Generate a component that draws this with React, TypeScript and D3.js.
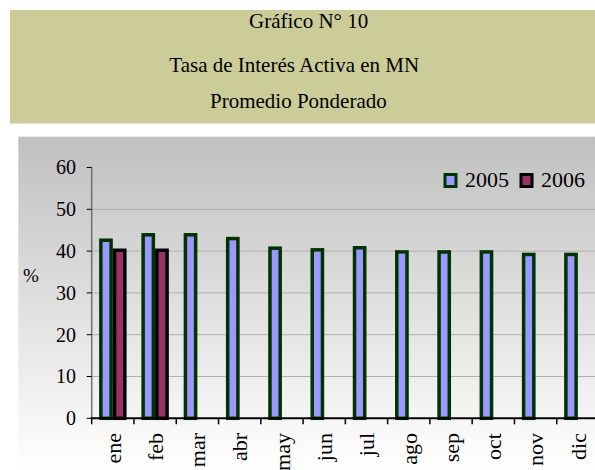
import React from "react";
import * as d3 from "d3";

const titleLines = ["Gráfico N° 10", "Tasa de Interés Activa en MN", "Promedio Ponderado"];
const months = ["ene", "feb", "mar", "abr", "may", "jun", "jul", "ago", "sep", "oct", "nov", "dic"];
const seriesNames = ["2005", "2006"];
const values2005 = [42.6, 43.9, 43.9, 43.0, 40.7, 40.3, 40.8, 39.8, 39.8, 39.8, 39.2, 39.2];
const values2006: (number | null)[] = [40.2, 40.2, null, null, null, null, null, null, null, null, null, null];
const yTicks = [0, 10, 20, 30, 40, 50, 60];
const yLabel = "%";

const fills = ["#9999ff", "#993366"];
const strokes = ["#003300", "#000000"];
const serif = "'Liberation Serif', 'Times New Roman', serif";

export default function App() {
  const W = 595, H = 470;
  const x0 = 91.7, x1 = 599;
  const yTop = 167.5, yBase = 418.3;
  const x = d3.scaleBand<string>().domain(months).range([x0, x1]).paddingInner(0).paddingOuter(0);
  const xs = d3.scaleBand<string>().domain(seriesNames).range([0, x.bandwidth()]).paddingInner(0).paddingOuter(0.54);
  const y = d3.scaleLinear().domain([0, 60]).range([yBase, yTop]);
  const sw = 3.5;
  const data = [values2005, values2006];
  const titlePos = [
    { x: 249, y: 28.3 },
    { x: 169.3, y: 71.7 },
    { x: 210, y: 107.7 },
  ];

  return (
    <svg width={W} height={H} style={{ position: "absolute", left: 0, top: 0, display: "block" }} fontFamily={serif}>
      <defs>
        <linearGradient id="bg" x1="0" y1="0" x2="0" y2="1">
          <stop offset="0" stopColor="#c0c0c0" />
          <stop offset="1" stopColor="#ffffff" />
        </linearGradient>
      </defs>
      <rect x={0} y={0} width={W} height={H} fill="#ffffff" />
      <rect x={10} y={10} width={W - 10} height={113.5} fill="#cccc99" />
      {titleLines.map((t, i) => (
        <text key={i} x={titlePos[i].x} y={titlePos[i].y} textAnchor="start" fontSize={21} fill="#000">
          {t}
        </text>
      ))}
      <rect x={18.3} y={136.7} width={W - 18.3} height={H - 136.7} fill="url(#bg)" />
      {yTicks.filter((t) => t > 0 && t < 60).map((t) => (
        <line key={t} x1={x0} x2={x1} y1={y(t)} y2={y(t)} stroke="#b0b0b0" strokeWidth={1} />
      ))}
      {data.map((vals, si) =>
        vals.map((v, i) =>
          v == null ? null : (
            <rect
              key={`${si}-${i}`}
              x={(x(months[i]) as number) + (xs(seriesNames[si]) as number) + sw / 2}
              y={y(v)}
              width={xs.bandwidth() - sw}
              height={y(0) - y(v)}
              fill={fills[si]}
              stroke={strokes[si]}
              strokeWidth={sw}
            />
          )
        )
      )}
      <line x1={x0} x2={x0} y1={yTop} y2={yBase} stroke="#707070" strokeWidth={1.5} />
      {yTicks.map((t) => (
        <g key={t}>
          <line x1={x0 - 5} x2={x0} y1={y(t)} y2={y(t)} stroke="#000" strokeWidth={1} />
          <text x={76} y={y(t)} dy="0.34em" textAnchor="end" fontSize={20} fill="#000">
            {t}
          </text>
        </g>
      ))}
      <text x={31} y={281.7} textAnchor="middle" fontSize={19} fill="#000">
        {yLabel}
      </text>
      <line x1={x0 - 1} x2={x1} y1={yBase} y2={yBase} stroke="#000" strokeWidth={2} />
      {months.map((m) => (
        <line key={m} x1={x(m) as number} x2={x(m) as number} y1={yBase} y2={yBase + 6} stroke="#000" strokeWidth={1.5} />
      ))}
      {months.map((m) => {
        const cx = (x(m) as number) + x.bandwidth() / 2;
        return (
          <text key={m} transform={`translate(${cx + 0.5},${433}) rotate(-90)`} dy="0.33em" textAnchor="end" fontSize={22} fill="#000">
            {m}
          </text>
        );
      })}
      {seriesNames.map((s, i) => {
        const lx = i === 0 ? 445 : 521;
        return (
          <g key={s}>
            <rect x={lx} y={174.5} width={11} height={12} fill={fills[i]} stroke={strokes[i]} strokeWidth={3} />
            <text x={lx + 20} y={187} fontSize={22} fill="#000">
              {s}
            </text>
          </g>
        );
      })}
    </svg>
  );
}
